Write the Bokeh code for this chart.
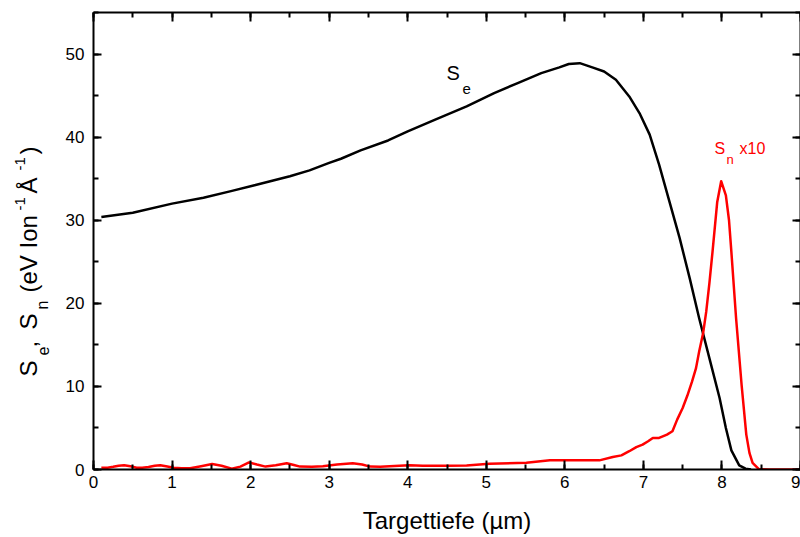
import math
from bokeh.plotting import figure
from bokeh.models import LinearAxis, SingleIntervalTicker, Label, Range1d
from bokeh.layouts import row
from bokeh.embed import file_html
from bokeh.resources import INLINE

# ---- data ----
se_depth = [0.1, 0.5, 1.0, 1.4, 1.75, 2.05, 2.25, 2.5, 2.75, 3.0, 3.15, 3.4, 3.75,
            4.0, 4.35, 4.75, 5.1, 5.4, 5.7, 5.93, 6.05, 6.19, 6.35, 6.5, 6.65, 6.82,
            6.95, 7.08, 7.2, 7.33, 7.46, 7.59, 7.71, 7.84, 7.97, 8.05, 8.12, 8.22,
            8.3, 8.37]
se_value = [30.4, 30.9, 32.0, 32.7, 33.5, 34.2, 34.7, 35.3, 36.0, 36.9, 37.4, 38.4, 39.6,
            40.7, 42.1, 43.7, 45.3, 46.5, 47.7, 48.4, 48.8, 48.9, 48.4, 47.9, 46.9, 44.9,
            42.9, 40.3, 36.7, 32.3, 27.9, 23.0, 18.2, 13.4, 8.6, 5.0, 2.3, 0.5,
            0.1, 0.0]

sn_depth = [0.1, 0.18, 0.25, 0.32, 0.39, 0.47, 0.55, 0.62, 0.7, 0.78, 0.85, 0.94, 1.02,
            1.12, 1.23, 1.37, 1.51, 1.63, 1.76, 1.87, 1.98, 2.08, 2.19, 2.32, 2.46,
            2.55, 2.63, 2.78, 2.92, 3.1, 3.3, 3.42, 3.52, 3.65, 3.77, 4.02, 4.19,
            4.5, 4.75, 5.04, 5.51, 5.81, 6.1, 6.44, 6.61, 6.72, 6.82, 6.91, 6.99,
            7.06, 7.12, 7.2, 7.3, 7.37, 7.43, 7.5, 7.56, 7.62, 7.67, 7.71, 7.76, 7.8,
            7.84, 7.88, 7.94, 7.99, 8.05, 8.09, 8.12, 8.18, 8.25, 8.31, 8.35, 8.39,
            8.47, 8.6, 9.0]
sn_value = [0.2, 0.22, 0.32, 0.45, 0.5, 0.38, 0.22, 0.22, 0.3, 0.45, 0.5, 0.35, 0.2,
            0.14, 0.15, 0.4, 0.65, 0.45, 0.1, 0.35, 0.85, 0.6, 0.35, 0.5, 0.75,
            0.55, 0.35, 0.32, 0.4, 0.6, 0.75, 0.6, 0.35, 0.34, 0.4, 0.5, 0.45,
            0.45, 0.48, 0.68, 0.8, 1.1, 1.1, 1.1, 1.5, 1.7, 2.2, 2.7, 3.0,
            3.4, 3.8, 3.8, 4.2, 4.6, 6.0, 7.4, 8.9, 10.6, 12.2, 14.2, 16.4, 19.0,
            22.4, 26.2, 32.2, 34.7, 33.0, 30.0, 26.2, 18.2, 10.2, 4.2, 2.0, 0.8,
            0.05, 0.0, 0.0]

x_label = "Targettiefe (µm)"
y_label_parts = ["S", "e", ",", "S", "n", "(eV Ion", "-1", "Å", "-1", ")"]

FONT = "Liberation Sans"

# ---- main plot ----
p = figure(width=750, height=537, x_range=(0, 9), y_range=(0, 55),
           output_backend="svg", toolbar_location=None, title=None,
           min_border_left=43, min_border_right=0, min_border_top=12,
           min_border_bottom=68, background_fill_color="white",
           border_fill_color="white")
p.outline_line_color = None
p.grid.visible = False

xt = SingleIntervalTicker(interval=1, num_minor_ticks=2)
yt = SingleIntervalTicker(interval=10, num_minor_ticks=2)


def style(ax, major_in, labels=True):
    ax.axis_line_width = 2
    ax.axis_line_color = "black"
    ax.major_tick_line_width = 2
    ax.minor_tick_line_width = 2
    ax.major_tick_in = major_in
    ax.major_tick_out = 0
    ax.minor_tick_in = 5
    ax.minor_tick_out = 0
    if labels:
        ax.major_label_text_font = FONT
        ax.major_label_text_font_size = "17px"
        ax.major_label_text_color = "black"
    else:
        ax.major_label_text_font_size = "0px"
        ax.major_label_text_color = None
        ax.major_label_standoff = 0


p.xaxis.ticker = xt
p.yaxis.ticker = yt
style(p.xaxis[0], 9)
style(p.yaxis[0], 8)
p.xaxis.major_label_standoff = 6
p.yaxis.major_label_standoff = 9
p.xaxis.axis_label = x_label
p.xaxis.axis_label_text_font = FONT
p.xaxis.axis_label_text_font_size = "24px"
p.xaxis.axis_label_text_font_style = "normal"
p.xaxis.axis_label_text_color = "black"
p.xaxis.axis_label_standoff = 16

top = LinearAxis(ticker=xt)
style(top, 9, labels=False)
p.add_layout(top, "above")
right = LinearAxis(ticker=yt)
style(right, 8, labels=False)
p.add_layout(right, "right")

p.line(se_depth, se_value, line_color="black", line_width=2.5, line_join="round")
p.line(sn_depth, sn_value, line_color="#ff0000", line_width=2.5, line_join="round")

X0, XS = 93.0, 707.0 / 9.0
Y0, YS = 469.0, 457.0 / 55.0


def lab(fig, text, x, y, size, color="black", angle=0.0, align="left"):
    fig.add_layout(Label(x=x, y=y, text=text, text_font=FONT,
                         text_font_size=f"{size}px", text_color=color,
                         angle=angle, text_align=align,
                         text_baseline="alphabetic"))


def plab(text, px, py, size, color="black"):
    lab(p, text, (px - X0) / XS, (Y0 - py) / YS, size, color)


plab("S", 446, 72, 20)
plab("e", 462, 88, 15)
plab("S", 714, 148, 16, "#ff0000")
plab("n", 726, 159, 13, "#ff0000")
plab("x10", 739, 148, 16, "#ff0000")

# ---- left strip holding the rotated y-axis title ----
# its frame is aligned with the main frame (window y 12..469), so data = window px
q = figure(width=50, height=537, x_range=Range1d(0, 50), y_range=Range1d(469, 12),
           output_backend="svg", toolbar_location=None, title=None,
           x_axis_type=None, y_axis_type=None, min_border=0,
           min_border_top=12, min_border_bottom=68,
           background_fill_color="white", border_fill_color="white")
q.outline_line_color = None

A = math.pi / 2
pos = [(28, 376, 24), (42, 355, 16), (28, 347, 24), (28, 329, 24), (42, 309, 16),
       (28, 292, 24), (19, 210, 15), (28, 193, 24), (19, 170, 15), (28, 154, 24)]
for t, (x, y, s) in zip(y_label_parts, pos):
    lab(q, t, x, y, s, angle=A)

layout = row(q, p)
open("out.html", "w").write(file_html(layout, INLINE))
